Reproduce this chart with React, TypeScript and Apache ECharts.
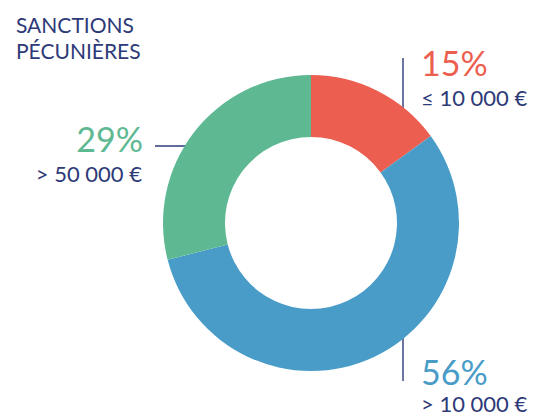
import React, { useEffect, useRef } from "react";
import * as echarts from "echarts";

const categories = ["≤ 10 000 €", "> 10 000 €", "> 50 000 €"];
const values = [15, 56, 29];
const percentLabels = ["15%", "56%", "29%"];
const colors = ["#EC5F50", "#4A9CC8", "#5EB993"];
const titleLines = ["SANCTIONS", "PÉCUNIÈRES"];

const NAVY = "#2E3A78";
const FONT = "Lato, 'Open Sans', sans-serif";

export default function App() {
  const ref = useRef<HTMLDivElement>(null);
  useEffect(() => {
    document.body.style.margin = "0";
    const chart = echarts.init(ref.current!, null, { renderer: "svg" });
    const mid = { textVerticalAlign: "middle" };
    chart.setOption({
      animation: false,
      backgroundColor: "#ffffff",
      series: [
        {
          type: "pie",
          center: [311, 223],
          radius: [86, 148],
          startAngle: 90,
          clockwise: true,
          label: { show: false },
          labelLine: { show: false },
          silent: true,
          itemStyle: { borderWidth: 0 },
          data: categories.map((c, i) => ({
            name: c,
            value: values[i],
            itemStyle: { color: colors[i] },
          })),
        },
      ],
      graphic: [
        { type: "text", x: 16, y: 24, style: { text: titleLines[0], fill: NAVY, font: `21px ${FONT}`, ...mid } },
        { type: "text", x: 16, y: 50, style: { text: titleLines[1], fill: NAVY, font: `21px ${FONT}`, ...mid } },
        // 15%
        { type: "line", shape: { x1: 403, y1: 58, x2: 403, y2: 126 }, style: { stroke: NAVY, lineWidth: 1.4 } },
        { type: "text", x: 421, y: 62, style: { text: percentLabels[0], fill: colors[0], font: `34px ${FONT}`, ...mid } },
        { type: "text", x: 421, y: 97, style: { text: categories[0], fill: NAVY, font: `22px ${FONT}`, ...mid } },
        // 29%
        { type: "line", shape: { x1: 155, y1: 146, x2: 222, y2: 146 }, style: { stroke: NAVY, lineWidth: 1.4 } },
        { type: "text", x: 143, y: 138, style: { text: percentLabels[2], fill: colors[2], font: `34px ${FONT}`, textAlign: "right", ...mid } },
        { type: "text", x: 142, y: 173, style: { text: categories[2], fill: NAVY, font: `22px ${FONT}`, textAlign: "right", ...mid } },
        // 56%
        { type: "line", shape: { x1: 403, y1: 313, x2: 403, y2: 381 }, style: { stroke: NAVY, lineWidth: 1.4 } },
        { type: "text", x: 421, y: 371, style: { text: percentLabels[1], fill: colors[1], font: `34px ${FONT}`, ...mid } },
        { type: "text", x: 421, y: 403, style: { text: categories[1], fill: NAVY, font: `22px ${FONT}`, ...mid } },
      ],
    });
    return () => chart.dispose();
  }, []);
  return <div ref={ref} style={{ position: "fixed", left: 0, top: 0, width: 549, height: 417 }} />;
}
